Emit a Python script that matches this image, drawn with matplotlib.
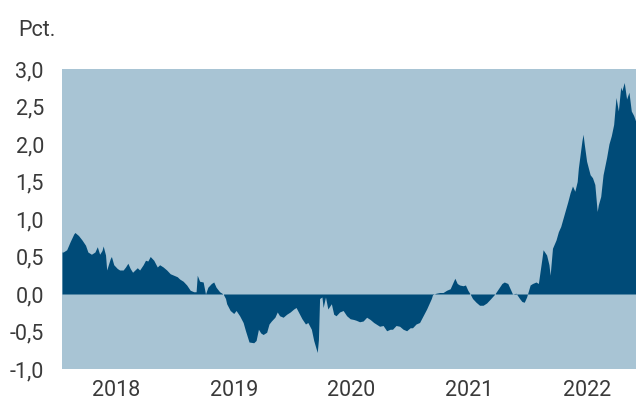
import matplotlib.pyplot as plt

plt.rcParams['font.family'] = ['Roboto', 'DejaVu Sans']

# decimal years and values (pct.)
dates = [2018.04, 2018.05, 2018.08, 2018.11, 2018.14, 2018.15, 2018.18, 2018.21, 2018.24, 2018.26,
         2018.29, 2018.32, 2018.34, 2018.36, 2018.38, 2018.39, 2018.41, 2018.42, 2018.45, 2018.46,
         2018.48, 2018.51, 2018.53, 2018.56, 2018.58, 2018.60, 2018.62, 2018.64, 2018.66, 2018.68,
         2018.70, 2018.73, 2018.75, 2018.77, 2018.79, 2018.82, 2018.85, 2018.87, 2018.90, 2018.93,
         2018.96, 2018.99, 2019.02, 2019.04, 2019.07, 2019.10, 2019.13, 2019.16, 2019.18, 2019.19,
         2019.21, 2019.24, 2019.26, 2019.28, 2019.31, 2019.33, 2019.35, 2019.38, 2019.41, 2019.43,
         2019.44, 2019.47, 2019.50, 2019.52, 2019.55, 2019.58, 2019.60, 2019.63, 2019.67, 2019.69,
         2019.71, 2019.73, 2019.75, 2019.78, 2019.80, 2019.82, 2019.85, 2019.87, 2019.89, 2019.92,
         2019.95, 2019.98, 2020.01, 2020.03, 2020.05, 2020.08, 2020.11, 2020.13, 2020.16, 2020.18,
         2020.21, 2020.22, 2020.23, 2020.25, 2020.26, 2020.28, 2020.30, 2020.33, 2020.35, 2020.37,
         2020.40, 2020.43, 2020.46, 2020.49, 2020.52, 2020.54, 2020.57, 2020.60, 2020.63, 2020.66,
         2020.69, 2020.71, 2020.74, 2020.77, 2020.80, 2020.83, 2020.85, 2020.88, 2020.91, 2020.94,
         2020.97, 2021.00, 2021.02, 2021.05, 2021.08, 2021.11, 2021.14, 2021.16, 2021.18, 2021.19,
         2021.22, 2021.25, 2021.28, 2021.31, 2021.34, 2021.36, 2021.38, 2021.40, 2021.42, 2021.45,
         2021.47, 2021.49, 2021.51, 2021.53, 2021.56, 2021.59, 2021.62, 2021.65, 2021.68, 2021.72,
         2021.75, 2021.78, 2021.80, 2021.83, 2021.85, 2021.87, 2021.90, 2021.93, 2021.95, 2021.97,
         2021.99, 2022.02, 2022.04, 2022.07, 2022.09, 2022.10, 2022.12, 2022.13, 2022.16, 2022.18,
         2022.19, 2022.21, 2022.24, 2022.26, 2022.28, 2022.30, 2022.32, 2022.34, 2022.36, 2022.38,
         2022.40, 2022.42, 2022.43, 2022.46, 2022.47, 2022.48, 2022.50, 2022.53, 2022.55, 2022.57,
         2022.59, 2022.60, 2022.62, 2022.64, 2022.67, 2022.69, 2022.71, 2022.73, 2022.75, 2022.77,
         2022.79, 2022.80, 2022.82, 2022.84, 2022.86, 2022.88, 2022.90, 2022.92]
values = [0.56, 0.56, 0.59, 0.70, 0.80, 0.82, 0.78, 0.72, 0.65, 0.56,
          0.53, 0.56, 0.63, 0.53, 0.58, 0.64, 0.52, 0.32, 0.47, 0.50,
          0.39, 0.34, 0.32, 0.32, 0.36, 0.41, 0.34, 0.29, 0.32, 0.35,
          0.32, 0.39, 0.45, 0.44, 0.50, 0.45, 0.36, 0.39, 0.36, 0.32,
          0.27, 0.25, 0.23, 0.20, 0.17, 0.12, 0.05, 0.03, 0.03, 0.25,
          0.17, 0.16, 0.00, 0.09, 0.14, 0.16, 0.09, 0.03, 0.00, -0.06,
          -0.13, -0.22, -0.26, -0.22, -0.29, -0.38, -0.49, -0.64, -0.65, -0.62,
          -0.47, -0.52, -0.54, -0.51, -0.40, -0.36, -0.31, -0.24, -0.29, -0.31,
          -0.27, -0.24, -0.20, -0.18, -0.24, -0.33, -0.40, -0.38, -0.47, -0.62,
          -0.78, -0.61, -0.06, -0.04, -0.18, -0.04, -0.20, -0.13, -0.27, -0.29,
          -0.24, -0.22, -0.29, -0.33, -0.34, -0.35, -0.37, -0.36, -0.31, -0.34,
          -0.38, -0.40, -0.43, -0.42, -0.49, -0.47, -0.47, -0.42, -0.43, -0.47,
          -0.49, -0.45, -0.45, -0.40, -0.38, -0.29, -0.20, -0.13, -0.06, -0.01,
          0.01, 0.02, 0.02, 0.05, 0.07, 0.14, 0.21, 0.14, 0.12, 0.11,
          0.12, 0.05, 0.00, -0.06, -0.11, -0.15, -0.15, -0.12, -0.07, 0.00,
          0.07, 0.14, 0.16, 0.14, 0.07, 0.00, 0.01, -0.06, -0.10, -0.11,
          -0.04, 0.12, 0.14, 0.16, 0.14, 0.25, 0.47, 0.59, 0.52, 0.39,
          0.25, 0.61, 0.72, 0.83, 0.90, 1.01, 1.12, 1.23, 1.35, 1.44,
          1.37, 1.50, 1.68, 2.04, 2.13, 2.00, 1.77, 1.59, 1.55, 1.46,
          1.10, 1.19, 1.30, 1.59, 1.82, 2.00, 2.11, 2.26, 2.62, 2.44,
          2.76, 2.71, 2.82, 2.60, 2.69, 2.44, 2.38, 2.29]

years = [2018, 2019, 2020, 2021, 2022]
yticks = [-1.0, -0.5, 0.0, 0.5, 1.0, 1.5, 2.0, 2.5, 3.0]

bg = '#a8c4d4'
dark = '#004b78'
txt = '#3a3a3a'

fig = plt.figure(figsize=(6.36, 4.01), dpi=100)
ax = fig.add_axes([62/636, 1 - 369/401, 574/636, 300/401])
ax.set_facecolor(bg)
ax.fill_between(dates, values, 0, color=dark, linewidth=0)

ax.set_xlim(2018.04, 2022.92)
ax.set_ylim(-1, 3)
ax.set_xticks([y + 0.5 for y in years])
ax.set_xticklabels([str(y) for y in years])
ax.set_yticks(yticks)
ax.set_yticklabels([f'{v:.1f}'.replace('.', ',') for v in yticks])
ax.tick_params(length=0, labelsize=15.5, colors=txt)
ax.tick_params(axis='y', pad=13)
ax.tick_params(axis='x', pad=8)
for s in ax.spines.values():
    s.set_visible(False)

fig.text(18/636, 1 - 36.5/401, 'Pct.', fontsize=15.5, color=txt, va='baseline')

fig.savefig('out.png', dpi=100)
